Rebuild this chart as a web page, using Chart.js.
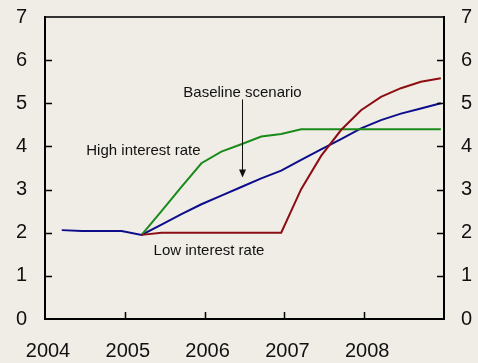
<!DOCTYPE html>
<html>
<head>
<meta charset="utf-8">
<script src="https://cdn.jsdelivr.net/npm/chart.js@4"></script>
<style>
  html, body { margin: 0; padding: 0; background: #f0ede6; }
  canvas { display: block; }
</style>
</head>
<body>
<canvas id="rateChart" width="478" height="363"></canvas>
<script>
// quarterly observations
const quarters = [
  '2004Q1', '2004Q2', '2004Q3', '2004Q4',
  '2005Q1', '2005Q2', '2005Q3', '2005Q4',
  '2006Q1', '2006Q2', '2006Q3', '2006Q4',
  '2007Q1', '2007Q2', '2007Q3', '2007Q4',
  '2008Q1', '2008Q2', '2008Q3', '2008Q4'
];
const baseline = [2.06, 2.04, 2.04, 2.04, 1.95, 2.19, 2.43, 2.66, 2.86, 3.06,
  3.26, 3.44, 3.69, 3.93, 4.17, 4.42, 4.61, 4.76, 4.88, 5.0];
const highRate = [null, null, null, null, 1.95, 2.5, 3.06, 3.61, 3.88, 4.05,
  4.23, 4.29, 4.4, 4.4, 4.4, 4.4, 4.4, 4.4, 4.4, 4.4];
const lowRate = [null, null, null, null, 1.95, 2.0, 2.0, 2.0, 2.0, 2.0,
  2.0, 2.0, 3.01, 3.78, 4.38, 4.84, 5.15, 5.35, 5.5, 5.58];
const yearTicks = [2004, 2005, 2006, 2007, 2008];
const valueTicks = [0, 1, 2, 3, 4, 5, 6, 7];

const FONT = '"Liberation Sans", Arial, sans-serif';

// quarter -> decimal year (points sit near the end of each quarter)
function qx(q) {
  const yr = parseInt(q.slice(0, 4));
  const n = parseInt(q.slice(5));
  return yr + (n - 1) * 0.25 + 0.21;
}
function toPoints(vals) {
  return quarters.map((q, i) => ({ x: qx(q), y: vals[i] }));
}

const notes = [
  { text: 'Baseline scenario', x: 2006.475, y: 5.25 },
  { text: 'High interest rate', x: 2005.233, y: 3.9 },
  { text: 'Low interest rate', x: 2006.055, y: 1.58 }
];
const arrow = { x: 2006.465, from: 5.09, to: 3.28 };

function fixWidth(w) {
  return s => {
    s.width = w;
    s.paddingTop = 0;
    s.paddingBottom = 0;
  };
}

const framePlugin = {
  id: 'frame',
  beforeDraw(chart) {
    const c = chart.ctx;
    c.save();
    c.fillStyle = '#f0ede6';
    c.fillRect(0, 0, chart.width, chart.height);
    c.restore();
  },
  afterDatasetsDraw(chart) {
    const c = chart.ctx;
    const a = chart.chartArea;
    const xs = chart.scales.x, ys = chart.scales.y;
    c.save();
    // inward tick marks
    c.strokeStyle = '#000';
    c.lineWidth = 1.5;
    c.beginPath();
    valueTicks.forEach(v => {
      if (v === 0 || v === 7) return;
      const py = Math.round(ys.getPixelForValue(v)) + 0.5;
      c.moveTo(a.left, py); c.lineTo(a.left + 7, py);
      c.moveTo(a.right, py); c.lineTo(a.right - 7, py);
    });
    yearTicks.forEach(v => {
      if (v === 2004) return;
      const px = Math.round(xs.getPixelForValue(v)) + 0.5;
      c.moveTo(px, a.bottom); c.lineTo(px, a.bottom - 7);
    });
    c.stroke();
    // frame
    c.lineWidth = 2;
    c.strokeStyle = '#333';
    c.beginPath();
    c.moveTo(a.left, a.top); c.lineTo(a.right, a.top);
    c.stroke();
    c.strokeStyle = '#000';
    c.beginPath();
    c.moveTo(a.left, a.top - 1); c.lineTo(a.left, a.bottom);
    c.lineTo(a.right, a.bottom); c.lineTo(a.right, a.top - 1);
    c.stroke();
    // annotations
    c.fillStyle = '#111';
    c.font = '15px ' + FONT;
    c.textAlign = 'center';
    c.textBaseline = 'middle';
    notes.forEach(n => {
      c.fillText(n.text, xs.getPixelForValue(n.x), ys.getPixelForValue(n.y));
    });
    const ax = Math.round(xs.getPixelForValue(arrow.x)) + 0.5;
    const ay1 = ys.getPixelForValue(arrow.from);
    const ay2 = ys.getPixelForValue(arrow.to);
    c.strokeStyle = '#111';
    c.lineWidth = 1;
    c.beginPath();
    c.moveTo(ax, ay1); c.lineTo(ax, ay2 - 6);
    c.stroke();
    c.beginPath();
    c.moveTo(ax, ay2);
    c.lineTo(ax - 3.5, ay2 - 8);
    c.lineTo(ax + 3.5, ay2 - 8);
    c.closePath();
    c.fill();
    c.restore();
  }
};

const ctx = document.getElementById('rateChart').getContext('2d');
new Chart(ctx, {
  type: 'line',
  data: {
    datasets: [
      { label: 'Low interest rate', data: toPoints(lowRate), borderColor: '#8c0d12', yAxisID: 'y' },
      { label: 'High interest rate', data: toPoints(highRate), borderColor: '#1a8a1a', yAxisID: 'y' },
      { label: 'Baseline scenario', data: toPoints(baseline), borderColor: '#0d0d8c', yAxisID: 'y' }
    ]
  },
  options: {
    responsive: false,
    animation: false,
    layout: { padding: { top: 17, left: 0, right: 0, bottom: 0 } },
    elements: {
      line: { borderWidth: 2, tension: 0, fill: false },
      point: { radius: 0 }
    },
    plugins: {
      legend: { display: false },
      tooltip: { enabled: false }
    },
    scales: {
      x: {
        type: 'linear',
        min: 2004,
        max: 2009,
        afterFit(s) { s.height = 44; s.paddingLeft = 0; s.paddingRight = 0; },
        afterBuildTicks(s) { s.ticks = yearTicks.map(v => ({ value: v })); },
        grid: { display: false, drawTicks: false },
        border: { display: false },
        ticks: {
          color: '#111',
          font: { family: FONT, size: 20 },
          padding: 20,
          labelOffset: 3,
          maxRotation: 0,
          autoSkip: false,
          callback: v => String(v)
        }
      },
      y: {
        position: 'left',
        min: 0,
        max: 7,
        afterFit: fixWidth(45),
        afterBuildTicks(s) { s.ticks = valueTicks.map(v => ({ value: v })); },
        grid: { display: false, drawTicks: false },
        border: { display: false },
        ticks: { color: '#111', font: { family: FONT, size: 20 }, padding: 18 }
      },
      y2: {
        position: 'right',
        min: 0,
        max: 7,
        afterFit: fixWidth(34),
        afterBuildTicks(s) { s.ticks = valueTicks.map(v => ({ value: v })); },
        grid: { display: false, drawTicks: false },
        border: { display: false },
        ticks: { color: '#111', font: { family: FONT, size: 20 }, padding: 17 }
      }
    }
  },
  plugins: [framePlugin]
});
</script>
</body>
</html>
